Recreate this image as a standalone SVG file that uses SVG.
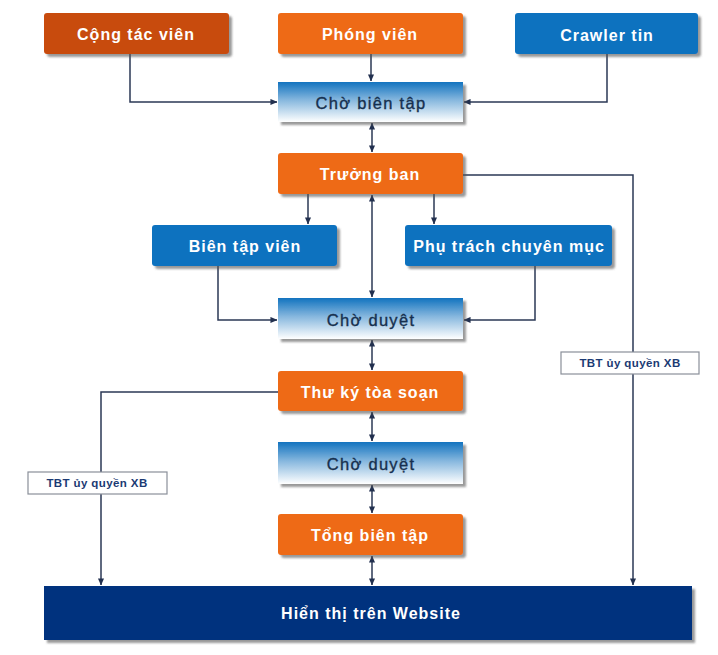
<svg xmlns="http://www.w3.org/2000/svg" width="718" height="655" viewBox="0 0 718 655">
<defs>
<linearGradient id="wait" x1="0" y1="0" x2="0" y2="1">
<stop offset="0" stop-color="#1273BF"/>
<stop offset="0.45" stop-color="#86B7DE"/>
<stop offset="1" stop-color="#FFFFFF"/>
</linearGradient>
<filter id="sh" x="-5%" y="-10%" width="115%" height="140%">
<feDropShadow dx="3" dy="3" stdDeviation="1.2" flood-color="#555" flood-opacity="0.6"/>
</filter>
<marker id="ah" viewBox="0 0 8 8" refX="7.5" refY="4" markerWidth="7" markerHeight="7" markerUnits="userSpaceOnUse" orient="auto-start-reverse">
<path d="M0,0.5 L8,4 L0,7.5 Z" fill="#22304F"/>
</marker>
</defs>
<style>
.t{font-family:"Liberation Sans",Arial,sans-serif;font-size:16px;font-weight:bold;fill:#fff;letter-spacing:1px;text-anchor:middle;dominant-baseline:central}
.w{font-family:"Liberation Sans",Arial,sans-serif;font-size:16.5px;fill:#16304F;stroke:#16304F;stroke-width:0.35;letter-spacing:1.3px;text-anchor:middle;dominant-baseline:central}
.l{font-family:"Liberation Sans",Arial,sans-serif;font-size:11.5px;font-weight:bold;fill:#1B3A73;letter-spacing:0.4px;text-anchor:middle;dominant-baseline:central}
.c{fill:none;stroke:#2B3855;stroke-width:1.5}
.a{marker-end:url(#ah)}
.d{marker-start:url(#ah);marker-end:url(#ah)}
.box{filter:url(#sh)}
.lb{fill:#fff;stroke:#8A8F99;stroke-width:1.2}
</style>
<rect width="718" height="655" fill="#fff"/>

<g id="connectors">
<path class="c a" d="M130,54 V102 H277"/>
<path class="c a" d="M371,54 V81"/>
<path class="c a" d="M607,54 V102 H464"/>
<path class="c d" d="M372,123 V152"/>
<path class="c a" d="M308,194 V224"/>
<path class="c a" d="M434,194 V224"/>
<path class="c d" d="M372,195 V297"/>
<path class="c a" d="M218,266 V320 H277"/>
<path class="c a" d="M535,266 V320 H464"/>
<path class="c d" d="M372,340 V370"/>
<path class="c d" d="M372,412 V441"/>
<path class="c d" d="M372,485 V513"/>
<path class="c d" d="M372,556 V585"/>
<path class="c a" d="M463,175 H633 V585"/>
<path class="c a" d="M278,392 H101 V585"/>
</g>

<g id="n-congtacvien"><rect class="box" x="44" y="13" width="185" height="41" rx="3" fill="#C84B0B"/><text class="t" x="136" y="34">Cộng tác viên</text></g>
<g id="n-phongvien"><rect class="box" x="278" y="13" width="185" height="41" rx="3" fill="#EE6A17"/><text class="t" x="370" y="34">Phóng viên</text></g>
<g id="n-crawler"><rect class="box" x="515" y="13" width="183" height="41" rx="3" fill="#0F72BF"/><text class="t" x="607" y="35">Crawler tin</text></g>
<g id="n-chobientap"><rect class="box" x="278" y="82" width="185" height="40" fill="url(#wait)"/><text class="w" x="371" y="103">Chờ biên tập</text></g>
<g id="n-truongban"><rect class="box" x="278" y="153" width="185" height="41" rx="3" fill="#EE6A17"/><text class="t" x="370" y="174">Trưởng ban</text></g>
<g id="n-bientapvien"><rect class="box" x="152" y="225" width="185" height="41" rx="3" fill="#0F72BF"/><text class="t" x="245" y="246">Biên tập viên</text></g>
<g id="n-phutrach"><rect class="box" x="405" y="225" width="207" height="41" rx="3" fill="#0F72BF"/><text class="t" x="509" y="246">Phụ trách chuyên mục</text></g>
<g id="n-choduyet1"><rect class="box" x="278" y="298" width="185" height="41" fill="url(#wait)"/><text class="w" x="371" y="320">Chờ duyệt</text></g>
<g id="n-thuky"><rect class="box" x="278" y="371" width="185" height="40" rx="3" fill="#EE6A17"/><text class="t" x="370" y="392">Thư ký tòa soạn</text></g>
<g id="n-choduyet2"><rect class="box" x="278" y="442" width="185" height="42" fill="url(#wait)"/><text class="w" x="371" y="464">Chờ duyệt</text></g>
<g id="n-tongbientap"><rect class="box" x="278" y="514" width="185" height="41" rx="3" fill="#EE6A17"/><text class="t" x="370" y="535">Tổng biên tập</text></g>
<g id="n-website"><rect class="box" x="44" y="586" width="648" height="54" fill="#04307E"/><text class="t" x="371" y="613">Hiển thị trên Website</text></g>
<g id="lbl-right"><rect class="lb" x="561" y="352" width="138" height="22"/><text class="l" x="630" y="363">TBT ủy quyền XB</text></g>
<g id="lbl-left"><rect class="lb" x="28" y="472" width="139" height="22"/><text class="l" x="97" y="483">TBT ủy quyền XB</text></g>
</svg>
